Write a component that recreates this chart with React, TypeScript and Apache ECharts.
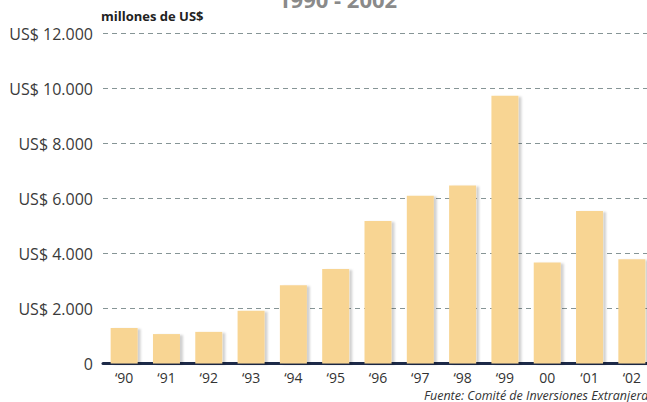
import React, { useEffect, useRef } from "react";
import * as echarts from "echarts";

const categories = ["\u201890", "\u201891", "\u201892", "\u201893", "\u201894", "\u201895", "\u201896", "\u201897", "\u201898", "\u201899", "00", "\u201801", "\u201802"];
const values = [1290, 1070, 1150, 1920, 2850, 3440, 5180, 6100, 6470, 9740, 3670, 5550, 3790];
const yTicks = [0, 2000, 4000, 6000, 8000, 10000, 12000];
const titleText = "1990 - 2002";
const unitText = "millones de US$";
const sourceText = "Fuente: Comité de Inversiones Extranjeras";

function fmt(v: number): string {
  if (v === 0) return "0";
  const s = String(v);
  const t = s.replace(/\B(?=(\d{3})+(?!\d))/g, ".");
  return "US$ " + t;
}

export default function App() {
  const ref = useRef<HTMLDivElement>(null);
  useEffect(() => {
    if (!ref.current) return;
    const chart = echarts.init(ref.current, null, { renderer: "svg" });
    chart.setOption({
      animation: false,
      backgroundColor: "#ffffff",
      textStyle: { fontFamily: "Open Sans" },
      grid: { left: 103, width: 550, top: 33.5, height: 330, containLabel: false },
      xAxis: {
        type: "category",
        data: categories,
        axisLine: { show: true, lineStyle: { color: "#1d2a48", width: 3 } },
        axisTick: { show: false },
        axisLabel: { color: "#333", fontSize: 14, margin: 6, lineHeight: 16, fontFamily: "Open Sans" },
      },
      yAxis: {
        type: "value",
        min: yTicks[0],
        max: yTicks[yTicks.length - 1],
        interval: 2000,
        axisLine: { show: false },
        axisTick: { show: false },
        axisLabel: {
          color: "#3a3a3a",
          fontSize: 16,
          margin: 10,
          fontFamily: "Open Sans",
          formatter: (v: number) => fmt(v),
        },
        splitLine: {
          show: true,
          lineStyle: { color: "#869596", type: [5, 4], width: 1 },
        },
      },
      series: [
        {
          type: "bar",
          data: values,
          barWidth: 27,
          itemStyle: {
            color: "#f8d593",
            shadowColor: "rgba(0,0,0,0.18)",
            shadowBlur: 2,
            shadowOffsetX: 3,
            shadowOffsetY: 1,
          },
        },
      ],
      graphic: [
        {
          type: "text",
          left: 278,
          top: -12,
          style: { text: titleText, fontSize: 22, fontWeight: "bold", fill: "#8a8a8a", fontFamily: "Open Sans" },
        },
        {
          type: "text",
          left: 101,
          top: 9,
          style: { text: unitText, fontSize: 13, fontWeight: "bold", fill: "#222", fontFamily: "Open Sans" },
        },
        {
          type: "text",
          left: 424,
          top: 389,
          style: { text: sourceText, fontSize: 12.5, lineHeight: 13, fontStyle: "italic", fill: "#333", fontFamily: "Open Sans" },
        },
      ],
    });
    return () => chart.dispose();
  }, []);
  return (
    <div style={{ position: "absolute", left: 0, top: 0, width: 647, height: 402, overflow: "hidden" }}>
      <div ref={ref} style={{ width: 660, height: 402 }} />
    </div>
  );
}
